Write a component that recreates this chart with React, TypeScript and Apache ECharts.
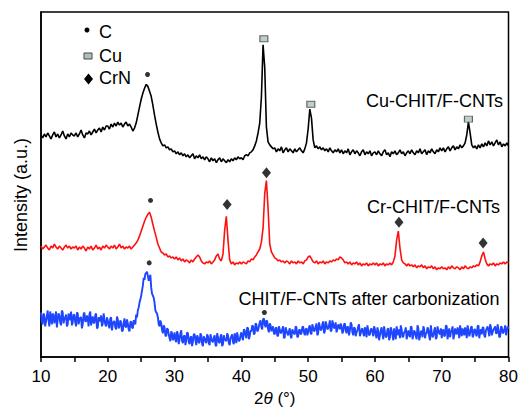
import React, { useEffect, useRef } from "react";
import * as echarts from "echarts";

// 2θ sampling grid: 10° to 80° in 0.25° steps (281 points)
const START_ANGLE = 10;
const STEP_ANGLE = 0.25;

// Cu-CHIT/F-CNTs (black), intensity in arbitrary units
const cuValues = [
  224,221,225,222,226,223,220,224,227,222,225,221,224,228,223,220,225,222,226,224,
  223,226,222,225,229,224,221,226,225,228,224,227,230,226,229,231,227,232,229,233,
  233,230,235,232,236,233,237,234,236,232,235,237,233,235,232,228,231,236,244,252,
  260,266,271,275,273,268,263,254,244,235,227,220,216,213,214,211,212,209,210,207,
  208,205,207,204,206,203,205,202,204,201,203,205,200,203,201,204,200,202,199,202,
  200,197,201,198,200,196,199,201,197,200,198,196,199,197,200,198,201,199,202,200,
  201,199,203,204,203,206,207,209,213,218,226,236,262,315,292,232,217,214,212,210,
  211,207,210,208,212,206,209,211,207,210,208,206,210,207,209,211,208,206,210,216,
  230,250,241,219,211,213,210,212,209,211,208,210,207,211,208,206,209,207,210,206,
  209,205,208,206,210,204,207,209,205,208,206,203,207,209,204,207,205,208,203,206,
  207,204,208,205,203,207,209,204,206,202,207,205,208,204,206,209,205,207,203,206,
  208,205,209,206,204,208,206,210,205,207,209,204,208,206,210,207,205,209,207,211,
  208,211,207,210,212,208,211,213,209,212,210,214,211,213,216,224,237,226,214,211,
  213,210,214,211,215,212,216,213,218,214,217,213,216,219,214,217,212,215,213,216,
  213,
];

// Cr-CHIT/F-CNTs (red)
const crValues = [
  112,109,111,113,110,108,112,110,114,111,109,112,110,108,111,113,110,112,109,111,
  110,112,108,111,109,112,110,107,111,109,112,108,110,113,109,111,108,112,110,113,
  111,109,112,110,113,109,111,114,110,112,109,111,110,112,109,111,113,115,118,122,
  127,132,137,141,144,146,141,134,127,121,114,110,106,105,103,104,101,102,100,101,
  99,101,98,100,97,99,96,98,97,95,98,96,99,101,103,101,97,95,94,96,
  95,97,94,96,98,102,104,99,97,104,128,142,118,98,94,96,93,95,94,96,
  94,96,95,94,97,96,99,98,101,103,106,109,116,130,165,178,150,114,106,103,
  100,99,97,98,96,97,95,97,96,94,97,95,96,94,97,95,96,94,97,98,
  101,102,99,96,95,97,94,96,95,97,94,96,95,97,96,98,97,99,98,101,
  100,98,95,96,94,96,93,95,94,96,93,95,92,94,93,95,92,94,93,95,
  93,95,92,94,93,95,92,94,93,95,93,96,102,118,127,110,98,95,94,92,
  94,92,93,91,93,90,92,91,93,90,92,89,91,90,92,89,91,88,90,89,
  91,89,90,88,91,89,92,90,89,91,90,88,91,89,92,90,89,91,90,92,
  91,93,92,96,102,106,99,94,92,94,93,95,92,94,93,95,94,96,94,96,
  95,
];

// CHIT/F-CNTs after carbonization (blue), on the 0.25° grid
const carbValues = [
  45,33,42,36,47,31,40,44,34,46,37,42,32,45,38,43,33,41,46,35,
  42,31,44,37,40,33,45,36,39,43,32,41,35,44,30,39,42,34,38,31,
  37,29,40,33,36,28,38,31,35,27,39,30,34,26,36,29,36,43,47,55,
  62,72,78,85,82,79,70,62,55,45,40,31,34,24,30,21,28,19,26,17,
  25,15,23,18,27,14,22,17,24,13,21,16,23,12,20,15,22,11,19,14,
  21,12,19,15,22,11,20,14,23,13,18,16,22,12,21,15,24,14,20,17,
  25,17,27,19,29,21,26,31,24,33,27,35,30,38,33,37,28,34,26,31,
  23,30,21,28,25,31,20,27,22,29,19,26,23,30,21,28,24,31,22,29,
  25,32,23,30,27,34,24,31,28,36,26,33,29,37,27,34,30,25,33,28,
  31,26,34,24,30,27,33,22,29,25,31,21,28,24,30,20,27,23,29,21,
  28,19,26,22,30,18,25,21,29,20,27,17,24,31,22,19,28,21,26,18,
  27,20,30,22,25,18,29,21,26,31,19,24,28,17,25,22,30,20,27,23,
  19,28,22,31,24,20,27,18,29,23,26,32,21,25,30,19,27,24,31,22,
  28,21,32,25,23,30,20,29,26,33,22,28,31,24,27,21,30,25,32,26,
  28,
];

// blue readings between the grid points (10.125° … 79.875°)
const carbMidValues = [
  36,44,31,41,37,46,33,42,39,30,44,35,47,34,40,31,44,37,32,43,
  35,45,33,40,29,43,36,42,31,46,38,34,42,29,40,36,31,44,33,40,
  32,39,27,36,30,41,29,37,26,34,31,38,28,35,30,37,33,40,50,58,
  67,80,84,86,77,83,64,60,47,44,33,37,27,32,22,29,23,16,24,20,
  17,26,13,24,16,21,12,25,15,20,11,23,17,22,14,24,13,21,16,23,
  14,23,16,20,12,24,15,21,11,22,17,24,14,19,23,13,20,25,16,22,
  20,28,22,30,18,27,32,23,34,26,31,37,28,39,30,36,25,32,29,24,
  29,22,31,24,28,19,30,24,26,21,28,24,31,20,27,23,30,25,28,22,
  30,24,33,26,31,22,35,27,33,24,36,28,32,26,37,29,35,28,31,34,
  24,33,27,31,22,35,25,30,21,27,33,24,29,21,27,32,22,28,25,31,
  22,30,17,27,23,31,20,28,17,30,22,29,18,26,28,32,20,25,30,22,
  23,31,18,27,21,32,17,26,20,28,24,30,21,32,20,27,18,31,24,29,
  26,21,32,18,29,25,31,22,25,30,19,27,29,22,26,32,21,30,20,28,
  23,31,19,28,30,22,27,31,21,30,25,29,24,33,20,31,24,28,22,31,
];

// Phase markers [2θ, intensity]
const cMarks = [[25.95, 285], [26.4, 158], [26.2, 95], [43.45, 45]];
const cuMarks = [[43.37, 321], [50.4, 255], [74.0, 240]];
const crnMarks = [[37.87, 154], [43.76, 186], [63.6, 136], [76.2, 115]];

const seriesNames = ["Cu-CHIT/F-CNTs", "Cr-CHIT/F-CNTs", "CHIT/F-CNTs after carbonization"];
const legendNames = ["C", "Cu", "CrN"];
const xTickLabels = [10, 20, 30, 40, 50, 60, 70, 80];

const FONT = '"Liberation Sans", Arial, Helvetica, sans-serif';

function toPairs(vals: number[]) {
  return vals.map((v, i) => [START_ANGLE + i * STEP_ANGLE, v]);
}

function interleave(main: number[], mid: number[]) {
  const out: number[][] = [];
  main.forEach((v, i) => {
    out.push([START_ANGLE + i * STEP_ANGLE, v]);
    if (i < mid.length) out.push([START_ANGLE + (i + 0.5) * STEP_ANGLE, mid[i]]);
  });
  return out;
}

export default function App() {
  const ref = useRef<HTMLDivElement>(null);
  useEffect(() => {
    if (!ref.current) return;
    const chart = echarts.init(ref.current, undefined, { renderer: "svg" });
    const txt = (s: string, x: number, y: number, align: string) => ({
      type: "text",
      x,
      y,
      style: {
        text: s,
        fill: "#000",
        font: `18px ${FONT}`,
        align,
        verticalAlign: "middle",
      },
      silent: true,
    });
    chart.setOption({
      animation: false,
      backgroundColor: "#fff",
      grid: {
        left: 41,
        right: 12.5,
        top: 12,
        bottom: 52,
        show: true,
        borderColor: "#000",
        borderWidth: 1.5,
        backgroundColor: "transparent",
      },
      xAxis: {
        type: "value",
        min: xTickLabels[0],
        max: xTickLabels[xTickLabels.length - 1],
        interval: 10,
        name: "2{i|θ} (°)",
        nameLocation: "middle",
        nameGap: 29,
        nameTextStyle: {
          color: "#000",
          fontSize: 17,
          fontFamily: FONT,
          verticalAlign: "top",
          rich: { i: { fontStyle: "italic", fontSize: 17, fontFamily: FONT, color: "#000" } },
        },
        axisLine: { show: true, lineStyle: { color: "#000", width: 1.5 } },
        axisTick: { show: true, inside: false, length: 5, lineStyle: { color: "#000", width: 1.5 } },
        minorTick: { show: true, splitNumber: 2, length: 5, lineStyle: { color: "#000", width: 1.5 } },
        axisLabel: { color: "#000", fontSize: 17, fontFamily: FONT, margin: 11 },
        splitLine: { show: false },
        minorSplitLine: { show: false },
      },
      yAxis: {
        type: "value",
        min: 0,
        max: 348,
        axisLine: { show: true, lineStyle: { color: "#000", width: 1.5 } },
        axisTick: { show: false },
        axisLabel: { show: false },
        splitLine: { show: false },
      },
      series: [
        {
          name: seriesNames[0],
          type: "line",
          data: toPairs(cuValues),
          showSymbol: false,
          lineStyle: { color: "#000", width: 1.6 },
          itemStyle: { color: "#000" },
          z: 3,
        },
        {
          name: seriesNames[1],
          type: "line",
          data: toPairs(crValues),
          showSymbol: false,
          lineStyle: { color: "#ff1010", width: 1.6 },
          itemStyle: { color: "#ff1010" },
          z: 3,
        },
        {
          name: seriesNames[2],
          type: "line",
          data: interleave(carbValues, carbMidValues),
          showSymbol: false,
          lineStyle: { color: "#1e46ff", width: 1.9 },
          itemStyle: { color: "#1e46ff" },
          z: 3,
        },
        {
          name: legendNames[0],
          type: "scatter",
          data: cMarks,
          symbol: "circle",
          symbolSize: 5,
          itemStyle: { color: "#000" },
          z: 5,
        },
        {
          name: legendNames[1],
          type: "scatter",
          data: cuMarks,
          symbol: "rect",
          symbolSize: [8, 6],
          itemStyle: { color: "#b0c0c0", borderColor: "#444", borderWidth: 1 },
          z: 5,
        },
        {
          name: legendNames[2],
          type: "scatter",
          data: crnMarks,
          symbol: "diamond",
          symbolSize: [9, 11],
          itemStyle: { color: "#000" },
          z: 5,
        },
      ],
      graphic: [
        // legend
        { type: "circle", shape: { cx: 87, cy: 30, r: 2.5 }, style: { fill: "#000" }, silent: true },
        txt(legendNames[0], 99, 32, "left"),
        { type: "rect", shape: { x: 84, y: 53, width: 8, height: 6 }, style: { fill: "#b0c0c0", stroke: "#444", lineWidth: 1 }, silent: true },
        txt(legendNames[1], 99, 55.5, "left"),
        { type: "polygon", shape: { points: [[88.5, 73.5], [93, 79], [88.5, 84.5], [84, 79]] }, style: { fill: "#000" }, silent: true },
        txt(legendNames[2], 99, 78, "left"),
        // series labels
        txt(seriesNames[0], 503, 100.5, "right"),
        txt(seriesNames[1], 500, 206.5, "right"),
        txt(seriesNames[2], 499.5, 298.5, "right"),
        // y axis name
        {
          type: "text",
          x: 20.5,
          y: 195,
          rotation: Math.PI / 2,
          style: {
            text: "Intensity (a.u.)",
            fill: "#000",
            font: `18px ${FONT}`,
            align: "center",
            verticalAlign: "middle",
          },
          silent: true,
        },
      ],
    });
    return () => chart.dispose();
  }, []);
  return (
    <div
      ref={ref}
      style={{ position: "fixed", left: 0, top: 0, width: 521, height: 412, background: "#fff" }}
    />
  );
}
